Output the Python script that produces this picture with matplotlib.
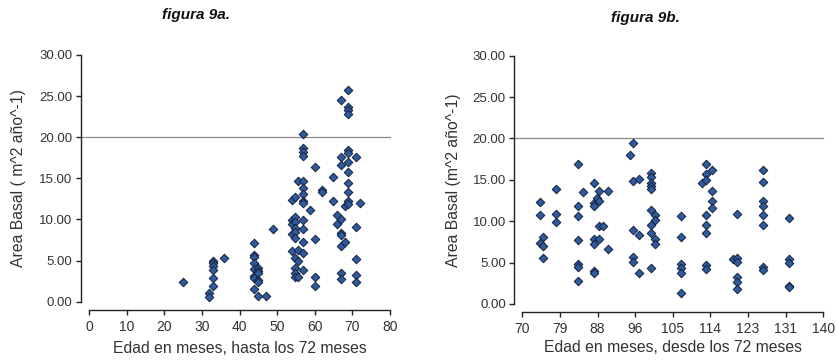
import matplotlib
matplotlib.use('Agg')
import matplotlib.pyplot as plt
from matplotlib.ticker import FixedLocator, FixedFormatter

# figura 9a: age (months) vs basal area, up to 72 months
ages_a = [25, 32, 32,
          33, 33, 33, 33, 33, 33, 35.8,
          43.8, 43.8, 43.8, 43.8, 43.8, 43.8, 43.8, 43.8,
          45, 45, 45, 45, 45, 45, 47, 48.8,
          54, 54, 54, 54, 54,
          54.8, 54.8, 54.8, 54.8, 54.8, 54.8, 54.8, 54.8, 54.8, 54.8,
          55.6, 55.6, 55.6, 55.6,
          56.8, 56.8, 56.8, 56.8, 56.8, 56.8, 56.8, 56.8, 56.8, 56.8, 56.8, 56.8, 56.8, 56.8,
          58.7, 60, 60, 60, 60, 61.8, 61.8, 64.9, 64.9, 65.8, 65.8,
          66.9, 66.9, 66.9, 66.9, 66.9, 66.9, 66.9, 66.9, 66.9,
          68, 68,
          68.8, 68.8, 68.8, 68.8, 68.8, 68.8, 68.8, 68.8, 68.8, 68.8, 68.8, 68.8,
          71, 71, 71, 71, 71, 72]
area_a = [2.4, 1.1, 0.6,
          5.0, 4.7, 4.3, 3.9, 2.9, 1.9, 5.3,
          7.1, 5.7, 5.4, 4.7, 4.0, 3.1, 2.9, 1.6,
          4.1, 3.7, 3.5, 2.6, 2.4, 0.7, 0.7, 8.8,
          12.4, 9.9, 9.5, 8.2, 6.2,
          12.7, 10.3, 9.7, 9.0, 8.5, 7.7, 5.3, 4.1, 3.5, 3.0,
          14.7, 6.3, 5.0, 3.0,
          20.4, 18.7, 18.2, 17.7, 14.7, 13.8, 13.1, 12.2, 12.0, 9.9, 8.8, 7.2, 5.9, 3.9,
          11.1, 16.4, 7.6, 3.0, 1.9, 13.6, 13.3, 15.2, 12.3, 10.6, 9.5,
          24.5, 17.6, 16.6, 10.0, 8.3, 8.1, 6.8, 3.5, 2.8,
          11.6, 7.3,
          25.8, 23.7, 23.3, 22.8, 18.5, 18.1, 17.0, 15.8, 14.4, 13.3, 12.2, 11.9,
          17.6, 9.1, 5.2, 3.3, 2.4, 12.0]

# figura 9b: from 72 months on
ages_b = [74, 74, 74, 74.7, 74.7, 74.7, 77.8, 77.8, 77.8,
          83, 83, 83, 83, 83, 83, 83, 84,
          86.7, 86.7, 86.7, 86.7, 86.7, 86.7, 86.7, 87.3,
          87.9, 87.9, 87.9, 87.9, 88.8, 90, 90,
          95, 95.8, 95.8, 95.8, 95.8, 95.8, 97.1, 97.1, 97.1,
          99.9, 99.9, 99.9, 99.9, 99.9, 99.9, 99.9, 99.9, 99.9,
          100.9, 100.9, 100.9, 100.9,
          106.9, 106.9, 106.9, 106.9, 106.9, 106.9, 111.9,
          112.7, 112.7, 112.7, 112.7, 112.7, 112.7, 112.7, 112.7,
          114, 114, 114, 114, 118.9,
          119.9, 119.9, 119.9, 119.9, 119.9, 119.9,
          125.9, 125.9, 125.9, 125.9, 125.9, 125.9, 125.9, 125.9,
          132.1, 132.1, 132.1, 132.1, 132.1]
area_b = [12.3, 10.7, 7.4, 8.1, 7.0, 5.5, 13.9, 10.9, 9.9,
          16.9, 11.9, 10.6, 7.7, 4.8, 4.5, 2.8, 13.5,
          14.6, 12.2, 11.9, 7.8, 7.2, 4.0, 3.8, 12.8,
          13.6, 12.5, 9.4, 7.8, 9.4, 13.7, 6.6,
          18.0, 19.4, 14.9, 9.0, 5.7, 5.1, 15.1, 8.3, 3.7,
          15.8, 15.4, 14.6, 14.2, 13.9, 11.3, 9.6, 8.6, 4.3,
          10.8, 10.2, 7.8, 7.3,
          10.6, 8.1, 4.8, 4.3, 3.7, 1.3, 14.6,
          16.9, 15.7, 15.0, 10.7, 9.6, 8.6, 4.7, 4.2,
          16.2, 13.6, 12.5, 11.6, 5.4,
          10.9, 5.5, 5.1, 3.3, 2.7, 1.8,
          16.2, 14.8, 12.5, 11.8, 10.7, 9.6, 4.5, 4.1,
          10.4, 5.4, 5.0, 2.2, 2.1]

yticks = [0, 5, 10, 15, 20, 25, 30]
xticks_a = [0, 10, 20, 30, 40, 50, 60, 70, 80]
xticks_b = [70, 78.75, 87.5, 96.25, 105, 113.75, 122.5, 131.25, 140]
xlabels_b = ['70', '79', '88', '96', '105', '114', '123', '131', '140']

SANS = ['Liberation Sans', 'DejaVu Sans']
TXT = '#333333'

fig = plt.figure(figsize=(8.36, 3.61), dpi=100)
ax_a = fig.add_axes([0.1065, 0.1643, 0.36, 0.6834])
ax_b = fig.add_axes([0.6248, 0.1579, 0.36, 0.6878])


def style(ax, x, y, xlim, xt, xl, xlabel, ylabel, ylab_x, xlab_y):
    ax.scatter(x, y, s=19, marker='D', facecolor='#2f5a9e',
               edgecolor='#14223d', linewidth=0.7, zorder=3, clip_on=False)
    ax.axhline(20, xmin=-8 / 301, xmax=1, color='#8a8a8a', lw=0.9,
               clip_on=False, zorder=1)
    ax.set_xlim(*xlim)
    ax.set_ylim(0, 30)
    for s in ['top', 'right']:
        ax.spines[s].set_visible(False)
    for s in ['left', 'bottom']:
        ax.spines[s].set_position(('outward', 5.8))
        ax.spines[s].set_linewidth(1.0)
        ax.spines[s].set_color('#222222')
    ax.xaxis.set_major_locator(FixedLocator(xt))
    ax.xaxis.set_major_formatter(FixedFormatter(xl))
    ax.set_yticks(yticks)
    ax.set_yticklabels(['%.2f' % v for v in yticks])
    ax.tick_params(axis='y', direction='out', length=3.6, width=1.0,
                   pad=2.5, labelsize=9.5, labelcolor=TXT, color='#222222')
    ax.tick_params(axis='x', direction='out', length=3.4, width=1.0,
                   pad=4, labelsize=10, labelcolor=TXT, color='#222222')
    for t in ax.get_yticklabels() + ax.get_xticklabels():
        t.set_family(SANS)
    ax.set_xlabel(xlabel, fontsize=11.3, color=TXT, family=SANS)
    ax.xaxis.label.set_va('center')
    ax.xaxis.set_label_coords(0.5, xlab_y)
    ax.set_ylabel(ylabel, fontsize=11.3, color=TXT, family=SANS)
    ax.yaxis.label.set_va('center')
    ax.yaxis.set_label_coords(ylab_x, 0.5)


style(ax_a, ages_a, area_a, (0, 80), xticks_a, [str(v) for v in xticks_a],
      'Edad en meses, hasta los 72 meses', 'Area Basal ( m^2 año^-1)',
      -0.236, -0.188)
style(ax_b, ages_b, area_b, (70, 140), xticks_b, xlabels_b,
      'Edad en meses, desde los 72 meses', 'Area Basal (m^2 año^-1)',
      -0.230, -0.177)

fig.text(196 / 836, 1 - 15 / 361, 'figura 9a.', ha='center', va='center',
         fontsize=11, fontweight='bold', style='italic', family=SANS,
         color='#111111')
fig.text(645 / 836, 1 - 18 / 361, 'figura 9b.', ha='center', va='center',
         fontsize=11, fontweight='bold', style='italic', family=SANS,
         color='#111111')

fig.savefig('out.png', dpi=100)
